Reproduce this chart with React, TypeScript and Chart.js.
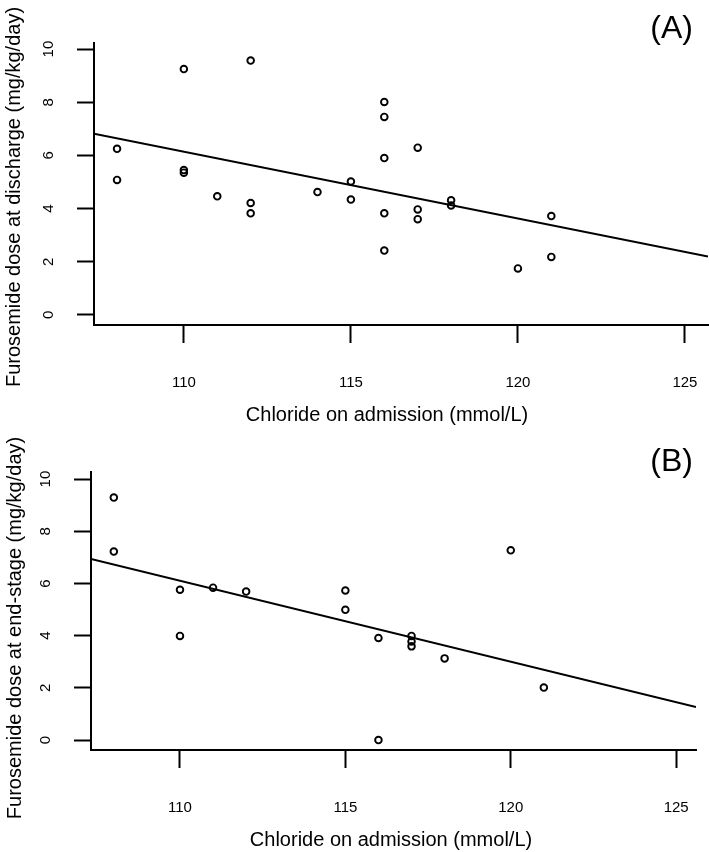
import React, { useEffect, useRef } from "react";
import { Chart, registerables } from "chart.js";

Chart.register(...registerables);

// ---------- Data ----------
const chlorideA = [108, 108, 110, 110, 110, 111, 112, 112, 112, 114, 115, 115, 116, 116, 116, 116, 116, 117, 117, 117, 118, 118, 120, 121, 121];
const doseA = [6.25, 5.08, 9.25, 5.45, 5.35, 4.46, 9.57, 4.21, 3.82, 4.62, 5.02, 4.34, 8.01, 7.45, 5.9, 3.82, 2.42, 6.29, 3.97, 3.6, 4.31, 4.12, 1.75, 3.72, 2.18];
const fitXA = [107.31, 125.69];
const fitYA = [6.82, 2.2];

const chlorideB = [108, 108, 110, 110, 111, 112, 115, 115, 116, 116, 117, 117, 117, 118, 120, 121];
const doseB = [9.29, 7.22, 5.76, 3.99, 5.84, 5.69, 5.73, 4.99, 3.91, 0, 3.99, 3.78, 3.59, 3.13, 7.27, 2.01];
const fitXB = [107.31, 125.6];
const fitYB = [6.94, 1.27];

const xTitle = "Chloride on admission (mmol/L)";
const yTitleA = "Furosemide dose at discharge (mg/kg/day)";
const yTitleB = "Furosemide dose at end-stage (mg/kg/day)";
const panelA = "(A)";
const panelB = "(B)";

const xRangeA = [107.31, 125.69];
const yRangeA = [-0.38, 10.23];
const xRangeB = [107.31, 125.6];
const yRangeB = [-0.38, 10.27];

const FONT = "'Liberation Sans', Arial, Helvetica, sans-serif";
const W = 709;
const H = 426;

type Txt = { text: string; x: number; y: number; size: number; align: CanvasTextAlign; rot?: boolean };

function textPlugin(texts: Txt[]) {
  return {
    id: "panelTexts",
    afterDraw(chart: any) {
      const ctx: CanvasRenderingContext2D = chart.ctx;
      ctx.save();
      ctx.fillStyle = "#000";
      ctx.textBaseline = "middle";
      for (const t of texts) {
        ctx.save();
        ctx.font = `${t.size}px ${FONT}`;
        ctx.textAlign = t.align;
        ctx.translate(t.x, t.y);
        if (t.rot) ctx.rotate(-Math.PI / 2);
        ctx.fillText(t.text, 0, 0);
        ctx.restore();
      }
      ctx.restore();
    },
  };
}

type PanelCfg = {
  xs: number[];
  ys: number[];
  fx: number[];
  fy: number[];
  xRange: number[];
  yRange: number[];
  padTop: number;
  padRight: number;
  yAxisWidth: number;
  xAxisHeight: number;
  texts: Txt[];
};

function makeConfig(p: PanelCfg): any {
  const pts = p.xs.map((x, i) => ({ x, y: p.ys[i] }));
  const fit = p.fx.map((x, i) => ({ x, y: p.fy[i] }));
  return {
    type: "scatter",
    data: {
      datasets: [
        {
          data: fit,
          showLine: true,
          borderColor: "#000",
          borderWidth: 2,
          pointRadius: 0,
          fill: false,
        },
        {
          data: pts,
          showLine: false,
          pointStyle: "circle",
          pointRadius: 3.3,
          pointBorderWidth: 1.9,
          borderColor: "#000",
          backgroundColor: "rgba(0,0,0,0)",
          pointBackgroundColor: "rgba(0,0,0,0)",
        },
      ],
    },
    options: {
      responsive: false,
      animation: false,
      events: [],
      layout: { autoPadding: false, padding: { left: 0, top: p.padTop, right: p.padRight, bottom: 0 } },
      plugins: { legend: { display: false }, tooltip: { enabled: false }, title: { display: false } },
      scales: {
        x: {
          type: "linear",
          min: p.xRange[0],
          max: p.xRange[1],
          afterFit: (s: any) => {
            s.height = p.xAxisHeight;
            s.paddingLeft = 0;
            s.paddingRight = 0;
          },
          ticks: {
            stepSize: 5,
            includeBounds: false,
            autoSkip: false,
            maxRotation: 0,
            minRotation: 0,
            padding: 31,
            color: "#000",
            font: { size: 15, family: FONT },
          },
          grid: {
            display: true,
            drawOnChartArea: false,
            drawTicks: true,
            tickLength: 18,
            tickWidth: 2,
            tickColor: "#000",
          },
          border: { display: true, color: "#000", width: 2 },
          title: { display: false },
        },
        y: {
          type: "linear",
          min: p.yRange[0],
          max: p.yRange[1],
          afterFit: (s: any) => {
            s.width = p.yAxisWidth;
            s.paddingTop = 0;
            s.paddingBottom = 0;
          },
          ticks: {
            stepSize: 2,
            includeBounds: false,
            autoSkip: false,
            minRotation: 90,
            maxRotation: 90,
            crossAlign: "center",
            padding: 20,
            color: "#000",
            font: { size: 15, family: FONT },
          },
          grid: {
            display: true,
            drawOnChartArea: false,
            drawTicks: true,
            tickLength: 17,
            tickWidth: 2,
            tickColor: "#000",
          },
          border: { display: true, color: "#000", width: 2 },
          title: { display: false },
        },
      },
    },
    plugins: [textPlugin(p.texts)],
  };
}

function Panel({ cfg }: { cfg: PanelCfg }) {
  const ref = useRef<HTMLCanvasElement | null>(null);
  useEffect(() => {
    if (!ref.current) return;
    const chart = new Chart(ref.current, makeConfig(cfg));
    return () => chart.destroy();
  }, []);
  return <canvas ref={ref} width={W} height={H} style={{ display: "block", width: W, height: H }} />;
}

const cfgA: PanelCfg = {
  xs: chlorideA,
  ys: doseA,
  fx: fitXA,
  fy: fitYA,
  xRange: xRangeA,
  yRange: yRangeA,
  padTop: 43,
  padRight: 1,
  yAxisWidth: 94,
  xAxisHeight: H - 325,
  texts: [
    { text: panelA, x: 693, y: 29, size: 32, align: "right" },
    { text: xTitle, x: 387, y: 415, size: 20, align: "center" },
    { text: yTitleA, x: 14, y: 197, size: 20, align: "center", rot: true },
  ],
};

const cfgB: PanelCfg = {
  xs: chlorideB,
  ys: doseB,
  fx: fitXB,
  fy: fitYB,
  xRange: xRangeB,
  yRange: yRangeB,
  padTop: 46,
  padRight: 13,
  yAxisWidth: 91,
  xAxisHeight: H - 324,
  texts: [
    { text: panelB, x: 693, y: 36, size: 32, align: "right" },
    { text: xTitle, x: 391, y: 414, size: 20, align: "center" },
    { text: yTitleB, x: 15, y: 202, size: 20, align: "center", rot: true },
  ],
};

export default function App() {
  return (
    <div style={{ position: "absolute", left: 0, top: 0, width: W, height: 852, background: "#fff" }}>
      <Panel cfg={cfgA} />
      <Panel cfg={cfgB} />
    </div>
  );
}
